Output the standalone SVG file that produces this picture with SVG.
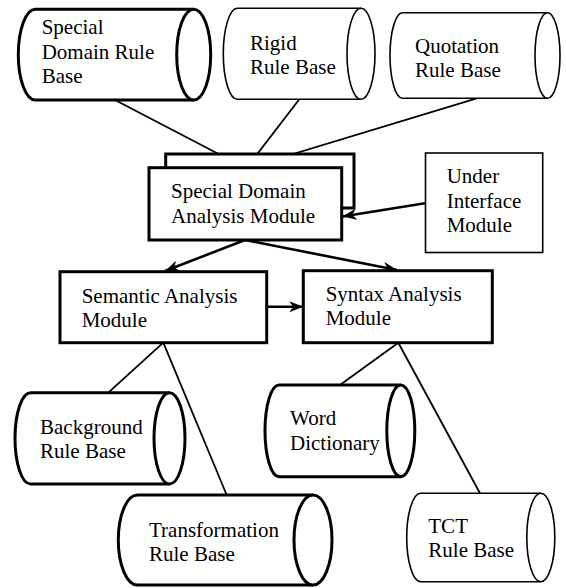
<svg xmlns="http://www.w3.org/2000/svg" width="566" height="588" viewBox="0 0 566 588">
<style>
  .bg { fill: #ffffff; }
  .thick { fill: #ffffff; stroke: #000000; stroke-width: 3; }
  .thin { fill: #ffffff; stroke: #000000; stroke-width: 1.6; }
  .line { stroke: #000000; stroke-width: 1.8; fill: none; }
  .arrow { stroke: #000000; stroke-width: 2.6; fill: none; marker-end: url(#ah); }
</style>
<defs>
  <marker id="ah" markerUnits="userSpaceOnUse" markerWidth="16" markerHeight="12" refX="14" refY="5.5" orient="auto">
    <path d="M0,0 L14,5.5 L0,11 L4,5.5 z" fill="#000000"/>
  </marker>
</defs>
<rect class="bg" x="0" y="0" width="566" height="588"/>
<g id="connectors">
  <line class="line" x1="115" y1="100" x2="245" y2="167.7"/>
  <line class="line" x1="299.3" y1="99.3" x2="246.7" y2="167.7"/>
  <line class="line" x1="476.7" y1="98.3" x2="248" y2="167.7"/>
  <line class="arrow" x1="425" y1="203.3" x2="342.5" y2="216.5"/>
  <line class="arrow" x1="245" y1="240" x2="165" y2="271"/>
  <line class="arrow" x1="245" y1="240" x2="397" y2="270"/>
  <line class="arrow" x1="266.7" y1="306.7" x2="303.3" y2="306.7"/>
  <line class="line" x1="163.3" y1="342.7" x2="108.3" y2="392.7"/>
  <line class="line" x1="163.3" y1="342.7" x2="226.7" y2="495"/>
  <line class="line" x1="398.3" y1="342.7" x2="340" y2="385"/>
  <line class="line" x1="398.3" y1="342.7" x2="480" y2="493.3"/>
</g>
<g id="nodes" font-family="'Liberation Serif', 'DejaVu Serif', serif" font-size="21" fill="#000000">
<g id="special-domain-rule-base">
  <path class="thick" d="M193.7,9.3 H35.3 A17,45.35 0 0 0 35.3,100 H193.7"/>
  <ellipse class="thick" cx="193.7" cy="54.65" rx="17" ry="45.35"/>
  <text x="41.7" y="34.3">Special</text>
  <text x="41.7" y="59.3">Domain Rule</text>
  <text x="41.7" y="83.3">Base</text>
</g>
<g id="rigid-rule-base">
  <path class="thin" d="M361,8.3 H237.3 A14,45.5 0 0 0 237.3,99.3 H361"/>
  <ellipse class="thin" cx="361" cy="53.8" rx="14" ry="45.5"/>
  <text x="250" y="50">Rigid</text>
  <text x="250" y="74">Rule Base</text>
</g>
<g id="quotation-rule-base">
  <path class="thin" d="M547.5,12.7 H402.5 A12.5,42.8 0 0 0 402.5,98.3 H547.5"/>
  <ellipse class="thin" cx="547.5" cy="55.5" rx="12.5" ry="42.8"/>
  <text x="415" y="53.3">Quotation</text>
  <text x="415" y="76.7">Rule Base</text>
</g>
<g id="special-domain-analysis-module">
  <rect class="thick" x="165.7" y="154" width="188.3" height="54"/>
  <rect class="thick" x="149" y="167.7" width="192.7" height="72.3"/>
  <text x="171" y="198">Special Domain</text>
  <text x="171" y="223">Analysis Module</text>
</g>
<g id="under-interface-module">
  <rect class="thin" x="425.5" y="153" width="117.2" height="99.5"/>
  <text x="446.7" y="183">Under</text>
  <text x="446.7" y="208">Interface</text>
  <text x="446.7" y="232">Module</text>
</g>
<g id="semantic-analysis-module">
  <rect class="thick" x="60" y="271.7" width="206.7" height="71"/>
  <text x="81.7" y="302.7">Semantic Analysis</text>
  <text x="81.7" y="326.7">Module</text>
</g>
<g id="syntax-analysis-module">
  <rect class="thick" x="303.3" y="270.7" width="189" height="72"/>
  <text x="325.7" y="300.7">Syntax Analysis</text>
  <text x="325.7" y="325">Module</text>
</g>
<g id="background-rule-base">
  <path class="thick" d="M169.5,392.7 H30.5 A15.5,45.65 0 0 0 30.5,484 H169.5"/>
  <ellipse class="thick" cx="169.5" cy="438.35" rx="15.5" ry="45.65"/>
  <text x="40" y="434">Background</text>
  <text x="40" y="457.7">Rule Base</text>
</g>
<g id="transformation-rule-base">
  <path class="thick" d="M313,495 H137.3 A19,45 0 0 0 137.3,585 H313"/>
  <ellipse class="thick" cx="313" cy="540" rx="19" ry="45"/>
  <text x="149" y="536.7">Transformation</text>
  <text x="149" y="561">Rule Base</text>
</g>
<g id="word-dictionary">
  <path class="thick" d="M400.8,385 H279 A14,45.85 0 0 0 279,476.7 H400.8"/>
  <ellipse class="thick" cx="400.8" cy="430.85" rx="14" ry="45.85"/>
  <text x="290" y="425">Word</text>
  <text x="290" y="450">Dictionary</text>
</g>
<g id="tct-rule-base">
  <path class="thin" d="M540.8,493.3 H420.7 A14,44.2 0 0 0 420.7,581.7 H540.8"/>
  <ellipse class="thin" cx="540.8" cy="537.5" rx="14" ry="44.2"/>
  <text x="428.3" y="533.3">TCT</text>
  <text x="428.3" y="557.3">Rule Base</text>
</g>
</g>
</svg>
